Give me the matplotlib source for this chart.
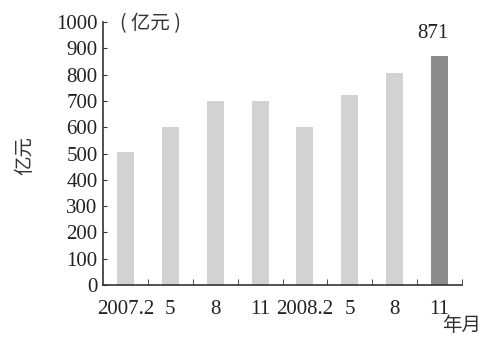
import matplotlib
matplotlib.use("Agg")
import matplotlib.pyplot as plt
import numpy as np

# data
labels = ["2007.2", "5", "8", "11", "2008.2", "5", "8", "11"]
values = [505, 600, 700, 700, 600, 722, 805, 871]
colors = ["#d2d2d2"] * 7 + ["#8c8c8c"]

cjk = ["Noto Sans CJK SC", "DejaVu Sans"]
plt.rcParams["font.family"] = ["Liberation Serif"]

fig = plt.figure(figsize=(5.0, 3.37), dpi=100)
ax = fig.add_axes([0.206, 0.154, 0.718, 0.781])

x = np.arange(len(values))
ax.bar(x, values, width=0.38, color=colors)

ax.set_xlim(-0.5, 7.5)
ax.set_ylim(0, 1000)
ax.set_yticks(range(0, 1001, 100))
ax.tick_params(axis="y", direction="in", length=3, labelsize=15, pad=4,
               colors="#333333", labelcolor="#222222")

# labels under the bars, ticks between them
ax.set_xticks(x)
ax.set_xticklabels(labels, fontsize=15, color="#222222")
ax.tick_params(axis="x", which="major", length=0, pad=11)
ax.set_xticks(np.arange(0.5, 8, 1), minor=True)
ax.tick_params(axis="x", which="minor", direction="in", length=4, colors="#333333")

for s in ["top", "right"]:
    ax.spines[s].set_visible(False)
for s in ["left", "bottom"]:
    ax.spines[s].set_color("#333333")
    ax.spines[s].set_linewidth(1.2)

ax.text(6.85, values[-1] + 50, "871", ha="center", va="bottom", fontsize=15, color="#222222")
ax.text(0.55, 995, "( 亿元 )", ha="center", va="center", fontsize=14,
        family=cjk, color="#333333")
fig.text(0.05, 0.54, "亿元", rotation=90, ha="center", va="center", fontsize=14,
         family=cjk, color="#333333")
fig.text(0.924, 0.035, "年月", ha="center", va="center", fontsize=14,
         family=cjk, color="#333333")

fig.savefig("out.png", dpi=100)
